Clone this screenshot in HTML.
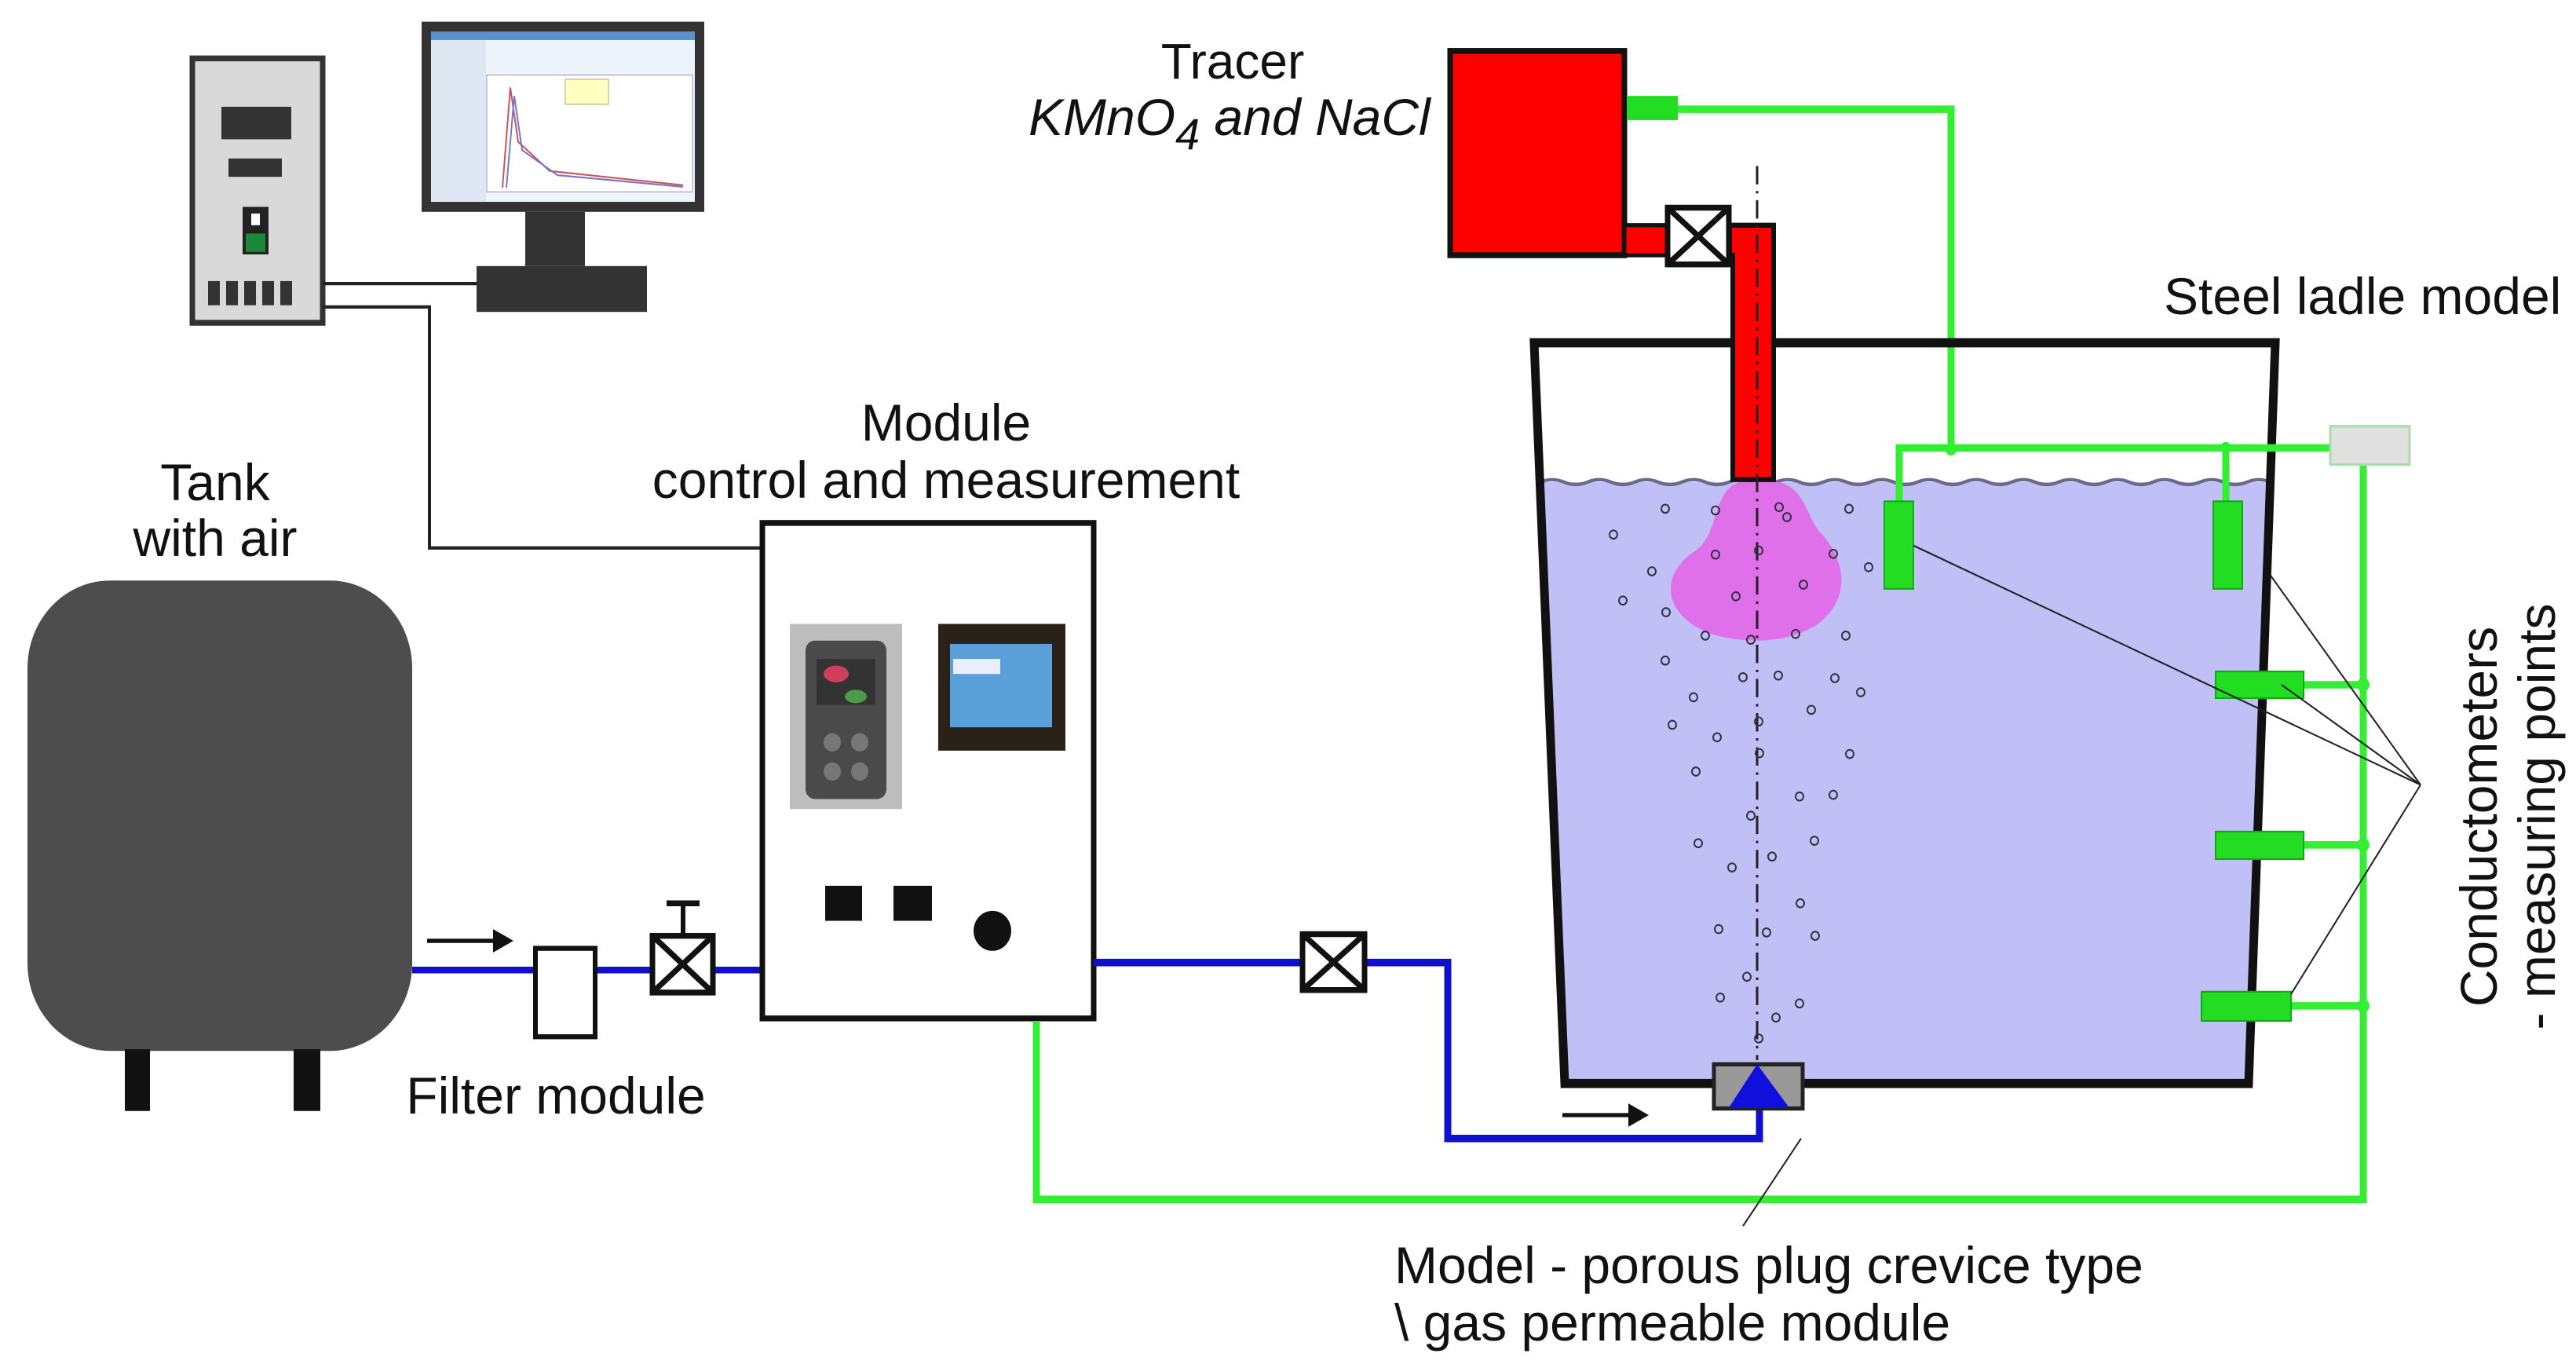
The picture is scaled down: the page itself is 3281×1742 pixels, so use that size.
<!DOCTYPE html>
<html><head><meta charset="utf-8"><style>html,body{margin:0;padding:0;background:#fff}svg{display:block}text{font-family:"Liberation Sans",sans-serif;fill:#111}</style></head>
<body>
<svg width="3281" height="1742" viewBox="0 0 3281 1742" xmlns="http://www.w3.org/2000/svg">
<g transform="scale(1,1.0621)">
<!-- controller -->
<rect x="245" y="70" width="166" height="317" fill="#d9d9d9" stroke="#333" stroke-width="7"/>
<rect x="282" y="128" width="89" height="39" fill="#333"/>
<rect x="291" y="190" width="68" height="22" fill="#333"/>
<rect x="309" y="248" width="33" height="57" fill="#222"/>
<rect x="320" y="256" width="11" height="14" fill="#fff"/>
<rect x="313" y="280" width="25" height="22" fill="#1a8a3a"/>
<g fill="#333"><rect x="265" y="337" width="15" height="29"/><rect x="288" y="337" width="15" height="29"/><rect x="311" y="337" width="15" height="29"/><rect x="334" y="337" width="15" height="29"/><rect x="357" y="337" width="15" height="29"/></g>
<!-- monitor -->
<rect x="537" y="26" width="360" height="228" fill="#333"/>
<rect x="549" y="38" width="336" height="204" fill="#eef4fb"/>
<rect x="549" y="38" width="336" height="10" fill="#5a8fd0"/>
<rect x="549" y="48" width="70" height="194" fill="#dfe8f2"/>
<rect x="620" y="90" width="262" height="140" fill="#fff" stroke="#99b" stroke-width="1"/>
<path d="M640 225 L650 105 L660 170 L700 205 L870 222" fill="none" stroke="#c55" stroke-width="2"/>
<path d="M645 225 L655 115 L665 180 L710 210 L870 224" fill="none" stroke="#77c" stroke-width="2"/>
<rect x="720" y="95" width="55" height="30" fill="#ffffc0" stroke="#aa8"/>
<rect x="669" y="254" width="76" height="65" fill="#333"/>
<rect x="607" y="319" width="217" height="55" fill="#333"/>
<!-- wires -->
<polyline points="411,340 607,340" fill="none" stroke="#222" stroke-width="4"/>
<polyline points="411,368 547,368 547,657 968,657" fill="none" stroke="#222" stroke-width="4"/>
<!-- tank -->
<rect x="35" y="696" width="490" height="564" rx="105" fill="#4d4d4d"/>
<rect x="159" y="1258" width="32" height="74" fill="#111"/>
<rect x="374" y="1258" width="34" height="74" fill="#111"/>
<!-- blue pipe left -->
<line x1="525" y1="1163" x2="968" y2="1163" stroke="#1010cc" stroke-width="8"/>
<line x1="544" y1="1128" x2="640" y2="1128" stroke="#111" stroke-width="5"/>
<polygon points="654,1128 628,1114 628,1142" fill="#111"/>
<rect x="682" y="1137" width="76" height="106" fill="#fff" stroke="#111" stroke-width="6"/>
<rect x="831" y="1122" width="77" height="68" fill="#fff" stroke="#111" stroke-width="7"/>
<path d="M831 1122 L908 1190 M908 1122 L831 1190" stroke="#111" stroke-width="7"/>
<line x1="870" y1="1122" x2="870" y2="1083" stroke="#111" stroke-width="6"/>
<line x1="849" y1="1083" x2="891" y2="1083" stroke="#111" stroke-width="7"/>
<!-- module -->
<rect x="971" y="627" width="422" height="594" fill="#fff" stroke="#111" stroke-width="7"/>
<rect x="1006" y="748" width="143" height="222" fill="#bdbdbd"/>
<rect x="1026" y="768" width="103" height="190" rx="12" fill="#4a4a4a"/>
<rect x="1040" y="790" width="75" height="55" fill="#333"/>
<ellipse cx="1065" cy="808" rx="16" ry="10" fill="#d0405a"/>
<ellipse cx="1090" cy="835" rx="14" ry="8" fill="#4c9a4a"/>
<circle cx="1060" cy="890" r="11" fill="#777"/><circle cx="1095" cy="890" r="11" fill="#777"/>
<circle cx="1060" cy="925" r="11" fill="#777"/><circle cx="1095" cy="925" r="11" fill="#777"/>
<rect x="1195" y="748" width="162" height="152" fill="#2a2218"/>
<rect x="1210" y="772" width="130" height="100" fill="#5aa0d8"/>
<rect x="1214" y="790" width="60" height="18" fill="#e8f0ff"/>
<rect x="1051" y="1062" width="47" height="42" fill="#111"/>
<rect x="1138" y="1062" width="49" height="42" fill="#111"/>
<circle cx="1264" cy="1116" r="24" fill="#111"/>
<!-- blue pipe right -->
<polyline points="1393,1154 1844,1154 1844,1365 2241,1365 2241,1325" fill="none" stroke="#1010cc" stroke-width="9"/>
<rect x="1659" y="1120" width="79" height="67" fill="#fff" stroke="#111" stroke-width="7"/>
<path d="M1659 1120 L1738 1187 M1738 1120 L1659 1187" stroke="#111" stroke-width="7"/>
<line x1="1990" y1="1337" x2="2085" y2="1337" stroke="#111" stroke-width="5"/>
<polygon points="2100,1337 2074,1323 2074,1351" fill="#111"/>
<!-- green outer loop -->
<polyline points="1320,1224 1320,1438 3010,1438 3010,535" fill="none" stroke="#33ee33" stroke-width="9"/>
<!-- tracer -->
<rect x="1847" y="61" width="222" height="245" fill="#ff0000" stroke="#111" stroke-width="7"/>
<rect x="2072" y="115" width="65" height="29" fill="#22dd22"/>
<polyline points="2137,131 2485,131 2485,539" fill="none" stroke="#33ee33" stroke-width="9"/>
<!-- ladle -->
<polygon points="1962,578 2890,578 2864,1294 1993,1294" fill="#c0c0f6"/>
<path d="M1962 578 q15 -6 30 0 t30 0 t30 0 t30 0 t30 0 t30 0 t30 0 t30 0 t30 0 t30 0 t30 0 t30 0 t30 0 t30 0 t30 0 t30 0 t30 0 t30 0 t30 0 t30 0 t30 0 t30 0 t30 0 t30 0 t30 0 t30 0 t30 0 t30 0 t30 0 t30 0 t30 0" fill="none" stroke="#6a6a8a" stroke-width="4"/>
<path d="M2215 578 C2180 590 2190 640 2160 660 C2110 690 2120 740 2180 760 C2230 775 2300 770 2330 735 C2360 700 2340 660 2320 640 C2300 620 2300 585 2265 578 Z" fill="#e070ea"/>
<polygon points="1954,411 2898,411 2864,1299 1993,1299" fill="none" stroke="#111" stroke-width="11"/>
<!-- red pipe -->
<rect x="2069" y="270" width="60" height="36" fill="#ff0000" stroke="#111" stroke-width="5"/>
<path d="M2203 270 L2259 270 L2259 575 L2207 575 L2207 306 L2203 306 Z" fill="#ff0000" stroke="#111" stroke-width="6"/>
<rect x="2124" y="249" width="78" height="68" fill="#fff" stroke="#111" stroke-width="7"/>
<path d="M2124 249 L2202 317 M2202 249 L2124 317" stroke="#111" stroke-width="7"/>
<line x1="2238" y1="199" x2="2238" y2="1271" stroke="#222" stroke-width="3" stroke-dasharray="22,8,3,8"/>
<!-- bubbles -->
<g fill="none" stroke="#334" stroke-width="2">
<circle cx="2121" cy="610" r="5"/><circle cx="2055" cy="641" r="5"/><circle cx="2104" cy="685" r="5"/><circle cx="2067" cy="720" r="5"/><circle cx="2122" cy="734" r="5"/><circle cx="2185" cy="612" r="5"/><circle cx="2266" cy="608" r="5"/><circle cx="2276" cy="620" r="5"/><circle cx="2355" cy="610" r="5"/><circle cx="2185" cy="665" r="5"/><circle cx="2240" cy="660" r="5"/><circle cx="2335" cy="664" r="5"/><circle cx="2380" cy="680" r="5"/><circle cx="2211" cy="715" r="5"/><circle cx="2297" cy="701" r="5"/><circle cx="2172" cy="762" r="5"/><circle cx="2230" cy="767" r="5"/><circle cx="2287" cy="760" r="5"/><circle cx="2351" cy="762" r="5"/><circle cx="2121" cy="792" r="5"/><circle cx="2220" cy="812" r="5"/><circle cx="2265" cy="810" r="5"/><circle cx="2337" cy="813" r="5"/><circle cx="2370" cy="830" r="5"/><circle cx="2157" cy="836" r="5"/><circle cx="2130" cy="869" r="5"/><circle cx="2307" cy="851" r="5"/><circle cx="2240" cy="865" r="5"/><circle cx="2187" cy="884" r="5"/><circle cx="2241" cy="903" r="5"/><circle cx="2356" cy="904" r="5"/><circle cx="2160" cy="925" r="5"/><circle cx="2292" cy="955" r="5"/><circle cx="2335" cy="953" r="5"/><circle cx="2230" cy="978" r="5"/><circle cx="2163" cy="1011" r="5"/><circle cx="2311" cy="1008" r="5"/><circle cx="2257" cy="1027" r="5"/><circle cx="2206" cy="1040" r="5"/><circle cx="2293" cy="1083" r="5"/><circle cx="2189" cy="1114" r="5"/><circle cx="2250" cy="1118" r="5"/><circle cx="2312" cy="1122" r="5"/><circle cx="2225" cy="1171" r="5"/><circle cx="2191" cy="1196" r="5"/><circle cx="2292" cy="1203" r="5"/><circle cx="2262" cy="1220" r="5"/><circle cx="2240" cy="1245" r="5"/>
</g>
<!-- porous plug -->
<rect x="2183" y="1276" width="113" height="53" fill="#999" stroke="#222" stroke-width="5"/>
<polygon points="2238,1276 2202,1328 2279,1328" fill="#1010dd"/>
<line x1="2294" y1="1365" x2="2220" y2="1470" stroke="#222" stroke-width="2"/>
<!-- green probes -->
<polyline points="2419,601 2419,537 2968,537" fill="none" stroke="#33ee33" stroke-width="9"/>
<line x1="2835" y1="537" x2="2835" y2="601" stroke="#33ee33" stroke-width="9"/>
<circle cx="2485" cy="539" r="7" fill="#33ee33"/><circle cx="2835" cy="537" r="7" fill="#33ee33"/>
<rect x="2968" y="511" width="101" height="46" fill="#e0e0e0" stroke="#aaddaa" stroke-width="3"/>
<rect x="2400" y="601" width="37" height="105" fill="#22dd22" stroke="#11aa11" stroke-width="2"/>
<rect x="2819" y="601" width="37" height="105" fill="#22dd22" stroke="#11aa11" stroke-width="2"/>
<g stroke="#33ee33" stroke-width="9"><line x1="2930" y1="821" x2="3010" y2="821"/><line x1="2930" y1="1013" x2="3010" y2="1013"/><line x1="2915" y1="1206" x2="3010" y2="1206"/></g>
<g fill="#33ee33"><circle cx="3010" cy="821" r="8"/><circle cx="3010" cy="1013" r="8"/><circle cx="3010" cy="1206" r="8"/></g>
<rect x="2822" y="805" width="112" height="32" fill="#22dd22" stroke="#11aa11" stroke-width="2"/>
<rect x="2822" y="997" width="112" height="33" fill="#22dd22" stroke="#11aa11" stroke-width="2"/>
<rect x="2804" y="1189" width="114" height="35" fill="#22dd22" stroke="#11aa11" stroke-width="2"/>
<g stroke="#222" stroke-width="2"><line x1="2437" y1="654" x2="3083" y2="941"/><line x1="2892" y1="690" x2="3083" y2="941"/><line x1="2906" y1="821" x2="3083" y2="941"/><line x1="2918" y1="1192" x2="3083" y2="941"/></g>
</g>
<!-- texts -->
<text x="274" y="637" font-size="66" text-anchor="middle">Tank</text>
<text x="274" y="708" font-size="66" text-anchor="middle">with air</text>
<text x="708" y="1418" font-size="66" text-anchor="middle">Filter module</text>
<text x="1205" y="561" font-size="66" text-anchor="middle">Module</text>
<text x="1205" y="634" font-size="66" text-anchor="middle">control and measurement</text>
<text x="1570" y="100" font-size="64" text-anchor="middle">Tracer</text>
<text x="1310" y="172" font-size="66" font-style="italic">KMnO<tspan font-size="56" dy="18">4</tspan><tspan dy="-18"> and NaCl</tspan></text>
<text x="1776" y="1634" font-size="66">Model - porous plug crevice type</text>
<text x="1776" y="1707" font-size="66">\ gas permeable module</text>
<text x="2756" y="400" font-size="66">Steel ladle model</text>
<text transform="translate(3180,1040) rotate(-90)" font-size="66" text-anchor="middle">Conductometers</text>
<text transform="translate(3254,1040) rotate(-90)" font-size="66" text-anchor="middle">- measuring points</text>
</svg>
</body></html>
